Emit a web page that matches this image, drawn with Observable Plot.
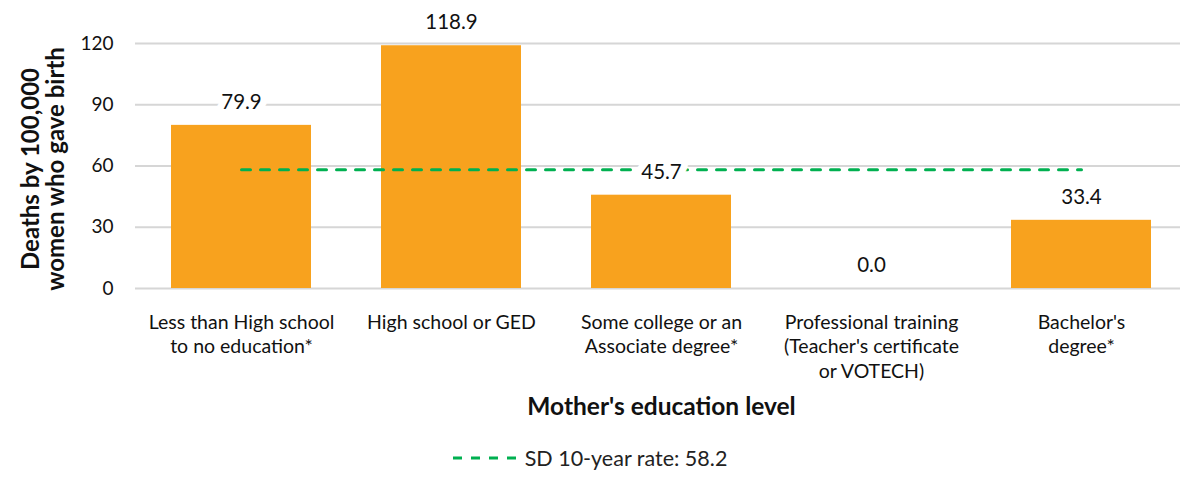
<!DOCTYPE html>
<html>
<head>
<meta charset="utf-8">
<script src="https://cdn.jsdelivr.net/npm/d3@7"></script>
<script src="https://cdn.jsdelivr.net/npm/@observablehq/plot@0.6"></script>
<style>
  body { margin: 0; background: #fff; font-family: Lato, "Open Sans", sans-serif; }
  #legend { display: flex; justify-content: center; align-items: center; margin-top: 15px; font-size: 21.5px; color: #222; padding-right: 0px; }
  #legend svg { margin-right: 8px; }
</style>
</head>
<body>
<div id="chart"></div>
<div id="legend"></div>
<script>
const categories = [
  "Less than High school\nto no education*",
  "High school or GED",
  "Some college or an\nAssociate degree*",
  "Professional training\n(Teacher's certificate\nor VOTECH)",
  "Bachelor's\ndegree*"
];
const rates = [79.9, 118.9, 45.7, 0.0, 33.4];
const stateRate = 58.2;
const stateLabel = "SD 10-year rate: 58.2";
const yTicks = [0, 30, 60, 90, 120];

const data = categories.map((c, i) => ({category: c, rate: rates[i]}));
const refLine = [categories[0], categories[categories.length - 1]].map(c => ({category: c, rate: stateRate}));

const font = "Lato, 'Open Sans', sans-serif";
const bar = "#F8A21E";
const green = "#00B050";

const chart = Plot.plot({
  width: 1180,
  height: 430,
  marginLeft: 135,
  marginRight: -7,
  marginTop: 43,
  marginBottom: 142,
  style: {fontFamily: font, fontSize: "19px", color: "#111", background: "#fff"},
  x: {domain: categories, paddingInner: 0.335, paddingOuter: 0.1675, label: null},
  y: {domain: [0, 120], label: null},
  marks: [
    Plot.ruleY(yTicks, {stroke: "#d6d6d6", strokeWidth: 2}),
    Plot.barY(data, {x: "category", y: "rate", fill: bar}),
    Plot.lineY(refLine, {x: "category", y: "rate", stroke: green, strokeWidth: 3, strokeDasharray: "9,10"}),
    Plot.text(data, {x: "category", y: "rate", text: d => d.rate.toFixed(1), dy: -23, fontSize: 20.5, fill: "#111", stroke: "white", strokeWidth: 14, paintOrder: "stroke"}),
    Plot.axisY({ticks: yTicks, tickSize: 0, tickPadding: 22, fontSize: 19, label: null}),
    Plot.axisX({tickSize: 0, tickPadding: 23, fontSize: 19.5, lineHeight: 1.25, label: null}),
    Plot.text(["Deaths by 100,000\nwomen who gave birth"], {frameAnchor: "left", textAnchor: "middle", dx: -92, dy: 3, rotate: -90, fontSize: 24, fontWeight: "bold", lineHeight: 1.05, fill: "#111"}),
    Plot.text(["Mother's education level"], {frameAnchor: "bottom", dy: 126, fontSize: 24.5, fontWeight: "bold", fill: "#111"})
  ]
});
document.getElementById("chart").appendChild(chart);

const legend = document.getElementById("legend");
legend.innerHTML = `<svg width="64" height="10"><line x1="0" y1="5" x2="64" y2="5" stroke="${green}" stroke-width="3" stroke-dasharray="9,9"/></svg><span>${stateLabel}</span>`;
</script>
</body>
</html>
